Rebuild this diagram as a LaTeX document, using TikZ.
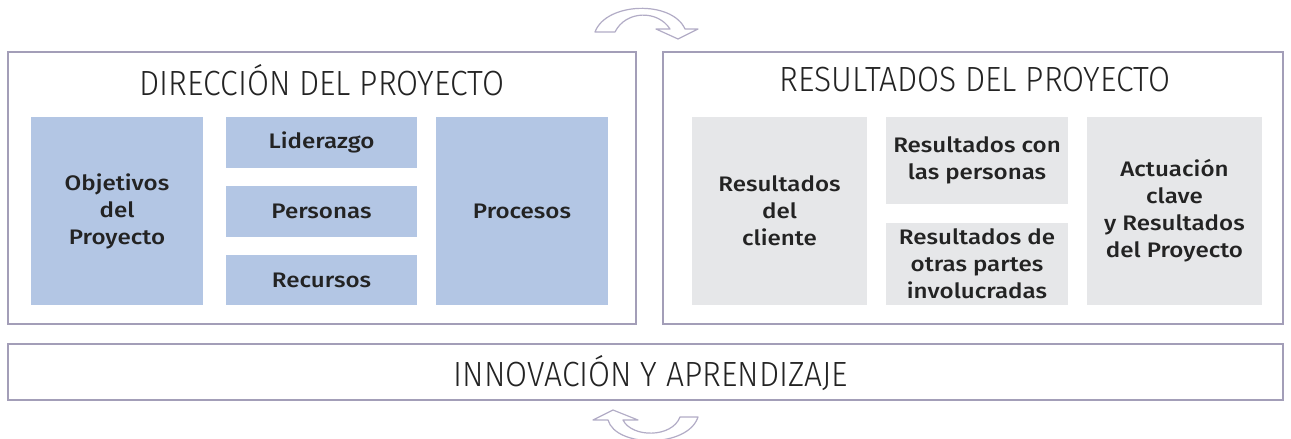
\documentclass[tikz,border=0pt]{standalone}
\usepackage{fontspec}
\setmainfont{Fira Sans}[UprightFont=* Medium,FakeStretch=1.15]
\newfontfamily\lightfont{Fira Sans}[UprightFont=* Light,FakeStretch=0.91]
\usepackage{tikz}
\usetikzlibrary{calc}
\definecolor{boxblue}{RGB}{179,198,228}
\definecolor{boxgrey}{RGB}{230,231,233}
\definecolor{framecol}{RGB}{163,158,184}
\definecolor{arrowcol}{RGB}{178,172,198}
\definecolor{txtcol}{RGB}{35,35,35}
\tikzset{
  frame/.style={draw=framecol,line width=1.3pt,fill=white,inner sep=0pt},
  bluebox/.style={fill=boxblue,inner sep=0pt,align=center,text=txtcol,
    font=\fontsize{21}{27}\selectfont},
  greybox/.style={fill=boxgrey,inner sep=0pt,align=center,text=txtcol,
    font=\fontsize{21}{27}\selectfont},
  heading/.style={inner sep=0pt,text=txtcol,font=\lightfont\fontsize{35}{38}\selectfont}
}
\begin{document}
\begin{tikzpicture}[x=1pt,y=-1pt]
        \useasboundingbox(0,0)rectangle(1291,439);
        % Frames
        \node[frame,minimum width=628,minimum height=272](fdir)at(322,188){};
        \node[frame,minimum width=620,minimum height=272](fres)at(973,188){};
        \node[frame,minimum width=1275,minimum height=56](finn)at(645.5,372){};
        % Headings
        \node[heading](hdir)at(322,80){DIRECCIÓN DEL PROYECTO};
        \node[heading](hres)at(975,80){RESULTADOS DEL PROYECTO};
        \node[heading](hinn)at(651,373){INNOVACIÓN Y APRENDIZAJE};
        % Project direction
        \node[bluebox,minimum width=172,minimum height=188](obj)at(117,211){Objetivos\\del\\Proyecto};
        \node[bluebox,minimum width=191,minimum height=51](lid)at(321.5,142.5){Liderazgo};
        \node[bluebox,minimum width=191,minimum height=51](per)at(321.5,211.5){Personas};
        \node[bluebox,minimum width=191,minimum height=50](rec)at(321.5,280){Recursos};
        \node[bluebox,minimum width=172,minimum height=188](pro)at(522,211){Procesos};
        % Project results
        \node[greybox,minimum width=175,minimum height=188](cli)at(779.5,211){Resultados\\del\\cliente};
        \node[greybox,minimum width=182,minimum height=87](pers)at(977,160.5){Resultados con\\las personas};
        \node[greybox,minimum width=182,minimum height=82](otr)at(977,264){Resultados de\\otras partes\\involucradas};
        \node[greybox,minimum width=175,minimum height=188](act)at(1174.5,211){Actuación\\clave\\y Resultados\\del Proyecto};
        % Cycle arrows
        \draw[arrowcol,line width=1.2pt,line join=round,fill=white]
          (595,32)..controls(606,2)and(672,0)..(685,29)--(698,29)--(678,39)--(656,29)--(670,29)
          ..controls(658,10)and(626,10)..(615,32)--cycle;
        \draw[arrowcol,line width=1.2pt,line join=round,fill=white]
          (613,410)--(638,420)--(623,420)..controls(632,438)and(672,438)..(680,417)--(698,417)
          ..controls(688,448)and(616,448)..(608,420)--(593,420)--cycle;
\end{tikzpicture}
\end{document}
